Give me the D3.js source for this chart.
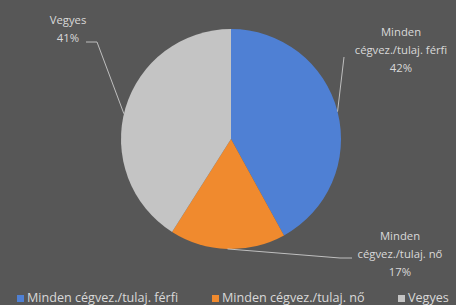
<!DOCTYPE html>
<html><head><meta charset="utf-8">
<script src="https://cdn.jsdelivr.net/npm/d3@7"></script>
<style>html,body{margin:0;padding:0;background:#575757;}svg{display:block;}</style>
</head><body>
<svg id="c" width="456" height="305"></svg>
<script>
const categories = ["Minden cégvez./tulaj. férfi", "Minden cégvez./tulaj. nő", "Vegyes"];
const values = [42, 17, 41];
const labelLines = [["Minden", "cégvez./tulaj. férfi", "42%"], ["Minden", "cégvez./tulaj. nő", "17%"], ["Vegyes", "41%"]];
const colors = ["#4f80d4", "#f08a2e", "#c4c4c4"];

const svg = d3.select("#c");
const W = 456, H = 305;
svg.append("rect").attr("width", W).attr("height", H).attr("fill", "#575757");

const cx = 231, cy = 139, r = 110;
const pie = d3.pie().sort(null).value(d => d);
const arcs = pie(values);
const arc = d3.arc().innerRadius(0).outerRadius(r);
const g = svg.append("g").attr("transform", `translate(${cx},${cy})`);
g.selectAll("path").data(arcs).join("path")
  .attr("d", arc).attr("fill", (d, i) => colors[i]).attr("stroke", "none");

const font = "'Open Sans', sans-serif";
const txtCol = "#d9d9d9";
const labelPos = [{x: 401, y: 32}, {x: 400, y: 236}, {x: 68, y: 20}];
const lh = 18;
labelLines.forEach((lines, i) => {
  const t = svg.append("text").attr("text-anchor", "middle").attr("fill", txtCol)
    .attr("font-family", font).attr("font-size", 11.3);
  lines.forEach((s, j) => t.append("tspan").attr("x", labelPos[i].x).attr("y", labelPos[i].y + j * lh + 4).text(s));
});

function edge(i, frac) {
  const a = arcs[i].startAngle + (arcs[i].endAngle - arcs[i].startAngle) * frac;
  return [cx + r * Math.sin(a), cy - r * Math.cos(a)];
}
const lineCol = "#bfbfbf";
const leaders = [
  [edge(0, 0.5), [344, 57]],
  [edge(1, 0.5), [340, 258], [352, 258]],
  [edge(2, 0.48), [97, 42], [86, 42]]
];
leaders.forEach(pts => {
  svg.append("path").attr("d", d3.line()(pts)).attr("fill", "none")
    .attr("stroke", lineCol).attr("stroke-width", 1);
});

const lg = svg.append("g").attr("font-family", font).attr("font-size", 12.6).attr("fill", txtCol);
const legendX = [17, 212, 398];
categories.forEach((c, i) => {
  lg.append("rect").attr("x", legendX[i]).attr("y", 295).attr("width", 7).attr("height", 7).attr("fill", colors[i]);
  lg.append("text").attr("x", legendX[i] + 10).attr("y", 302).text(c);
});
</script>
</body></html>
